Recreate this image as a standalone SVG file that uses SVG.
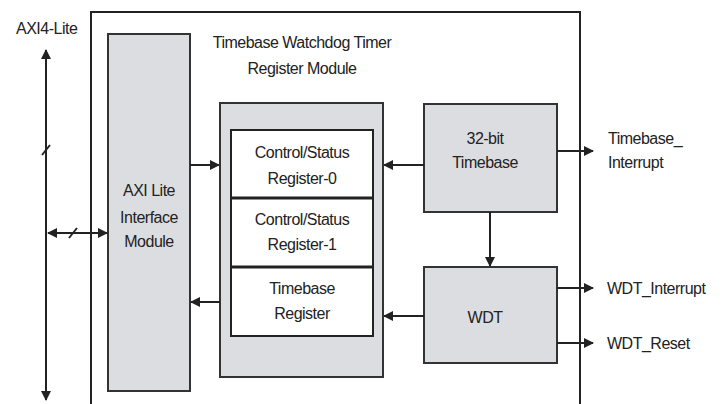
<svg xmlns="http://www.w3.org/2000/svg" width="723" height="404" viewBox="0 0 723 404">
<style>
.box{fill:#dcdde0;stroke:#333;stroke-width:2}
.reg{fill:#fff;stroke:#222;stroke-width:2}
.ln{stroke:#222;stroke-width:2;fill:none}
text{font-family:"Liberation Sans",Arial,sans-serif;font-size:16px;letter-spacing:-0.5px;fill:#222}
.c{text-anchor:middle}
</style>
<defs>
<marker id="ah" viewBox="0 0 10 10" refX="9" refY="5" markerWidth="5" markerHeight="5" orient="auto-start-reverse" markerUnits="strokeWidth">
<path d="M0,0 L10,5 L0,10 z" fill="#222"/>
</marker>
</defs>
<rect width="723" height="404" fill="#fff"/>
<g id="outer">
<path d="M91,406 V12 H580 V406" class="ln"/>
<text class="c" x="302" y="48">Timebase Watchdog Timer</text>
<text class="c" x="302" y="74">Register Module</text>
</g>
<g id="axi-label">
<text x="16" y="34">AXI4-Lite</text>
</g>
<g id="axi-module">
<rect class="box" x="108" y="34" width="82" height="357"/>
<text class="c" x="149" y="196">AXI Lite</text>
<text class="c" x="149" y="223">Interface</text>
<text class="c" x="149" y="247">Module</text>
</g>
<g id="register-module">
<rect class="box" x="220" y="103" width="163" height="274"/>
<rect class="reg" x="231" y="130" width="142" height="206"/>
<line x1="231" y1="198" x2="373" y2="198" stroke="#222" stroke-width="3"/>
<line x1="231" y1="267" x2="373" y2="267" stroke="#222" stroke-width="3"/>
</g>
<g id="csr0">
<text class="c" x="302" y="158">Control/Status</text>
<text class="c" x="302" y="184">Register-0</text>
</g>
<g id="csr1">
<text class="c" x="302" y="225">Control/Status</text>
<text class="c" x="302" y="250">Register-1</text>
</g>
<g id="tbr">
<text class="c" x="302" y="294">Timebase</text>
<text class="c" x="302" y="319">Register</text>
</g>
<g id="timebase">
<rect class="box" x="424" y="104" width="133" height="108"/>
<text class="c" x="485" y="144">32-bit</text>
<text class="c" x="485" y="168">Timebase</text>
</g>
<g id="wdt">
<rect class="box" x="424" y="267" width="133" height="96"/>
<text class="c" x="485" y="323">WDT</text>
</g>
<g id="outputs">
<text x="608" y="144">Timebase_</text>
<text x="608" y="168">Interrupt</text>
<text x="607" y="294">WDT_Interrupt</text>
<text x="607" y="349">WDT_Reset</text>
</g>
<g id="connectors">
<line class="ln" x1="46" y1="50" x2="46" y2="400" marker-start="url(#ah)" marker-end="url(#ah)"/>
<line class="ln" x1="42" y1="155" x2="50" y2="145" stroke-width="1.5"/>
<line class="ln" x1="48" y1="233" x2="107" y2="233" marker-start="url(#ah)" marker-end="url(#ah)"/>
<line class="ln" x1="69" y1="238" x2="77" y2="228" stroke-width="1.5"/>
<line class="ln" x1="190" y1="165" x2="219" y2="165" marker-end="url(#ah)"/>
<line class="ln" x1="220" y1="302" x2="191" y2="302" marker-end="url(#ah)"/>
<line class="ln" x1="424" y1="165" x2="384" y2="165" marker-end="url(#ah)"/>
<line class="ln" x1="424" y1="316" x2="384" y2="316" marker-end="url(#ah)"/>
<line class="ln" x1="490" y1="212" x2="490" y2="266" marker-end="url(#ah)"/>
<line class="ln" x1="557" y1="151" x2="593" y2="151" marker-end="url(#ah)"/>
<line class="ln" x1="557" y1="288" x2="593" y2="288" marker-end="url(#ah)"/>
<line class="ln" x1="557" y1="343" x2="593" y2="343" marker-end="url(#ah)"/>
</g>
</svg>
